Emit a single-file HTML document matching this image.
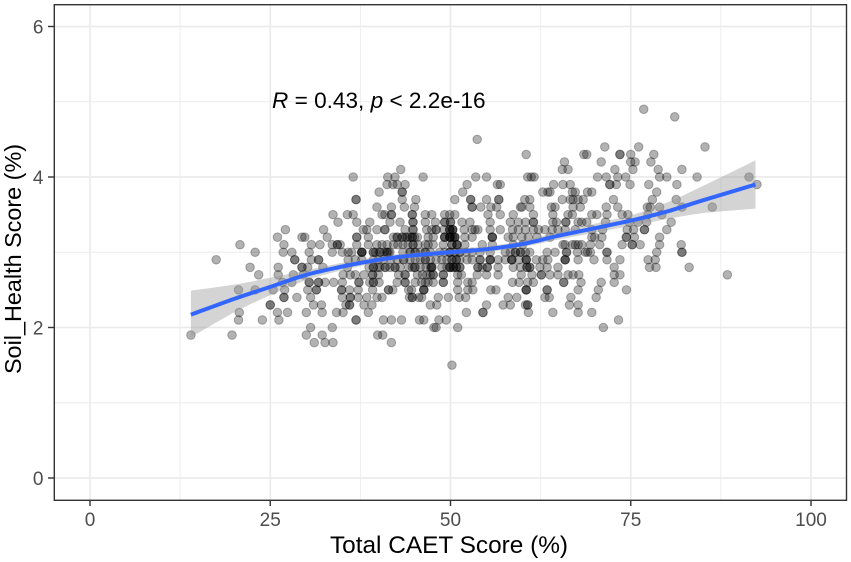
<!DOCTYPE html>
<html>
<head>
<meta charset="utf-8">
<title>Soil health vs CAET score</title>
<style>
html,body{margin:0;padding:0;background:#fff;width:851px;height:562px;overflow:hidden}
svg{display:block;font-family:"Liberation Sans",Arial,sans-serif}
</style>
</head>
<body>
<svg id="chart" width="851" height="562" viewBox="0 0 851 562" xmlns="http://www.w3.org/2000/svg">
<rect x="0" y="0" width="851" height="562" fill="#fff"/>
<g id="grid"></g>
<g id="points"></g>
<path id="band" fill="#999" fill-opacity="0.42" stroke="none"/>
<path id="trend" fill="none" stroke="#3366ff" stroke-width="4" stroke-linejoin="round"/>
<rect x="54.3" y="4.7" width="792.2" height="495.6" fill="none" stroke="#333" stroke-width="1.4"/>
<g id="axes"></g>
<text x="272" y="108" font-size="22.6" fill="#000"><tspan font-style="italic">R</tspan><tspan> = 0.43, </tspan><tspan font-style="italic">p</tspan><tspan> &lt; 2.2e-16</tspan></text>
<text x="449" y="553" font-size="24.4" fill="#000" text-anchor="middle">Total CAET Score (%)</text>
<text transform="translate(21,259) rotate(-90)" font-size="23.4" fill="#000" text-anchor="middle">Soil_Health Score (%)</text>
</svg>
<script>
const xMajorTicks = [0, 25, 50, 75, 100];
const xMinorTicks = [12.5, 37.5, 62.5, 87.5];
const yMajorTicks = [0, 2, 4, 6];
const yMinorTicks = [1, 3, 5];

const soilLevels = [1.5, 1.8, 1.9, 2.0, 2.1, 2.2, 2.3, 2.4, 2.5, 2.6, 2.7, 2.8, 2.9, 3.0, 3.1, 3.2, 3.3, 3.4, 3.5, 3.6, 3.7, 3.8, 3.9, 4.0, 4.1, 4.2, 4.3, 4.4, 4.5, 4.8, 4.9];
const caetAtLevel = [
[50.2],
[31.1,32.6,33.7,41.8],
[14.0,19.7,30,32.2,39.9,40.6],
[30.6,33.6,47.7,48,51,71.2],
[20.6,23.9,26.2,36.9,36.9,40.7,41.8,43.2,45.7,46.3,48.4,49.4,73.3],
[20.7,26,27.4,30,32.2,34.2,35.1,38.6,52.2,54.5,54.5,60.8,64.2,67.7,69.6],
[25,25,31,32.1,35.5,36,36,38,39.1,47.2,48.1,55,57.3,58.3,60.4,60.7,60.7,66.5,67.7],
[26.9,26.9,28.7,30.6,35,36.1,36.1,37.2,38.4,39.8,40.5,44.3,44.7,44.7,45.6,46,48.3,49.7,51.2,52.1,58,59.2,63.1,63.7,66.7,70.2],
[20.6,22.9,25.4,27,30.2,31.4,31.4,34.9,34.9,36,37.2,39.2,41.4,41.4,42,44.2,44.6,46.3,46.3,46.3,51,52.4,53.1,55.6,56.3,60.5,60.5,60.5,63.4,63.4,67.7,70.5,74.4],
[26.7,28,30.4,30.4,31.7,31.7,32.6,33.8,35,37.3,37.3,38.8,39.3,39.3,40.1,42.6,43.7,43.7,45.1,46,46.5,46.9,47.6,49,49,51,52.4,53,58.6,59.5,60.7,61.5,65.7,65.7,68.1,70.9,72.7],
[23.4,26.1,28.2,29.6,35.1,36.1,36.8,38,39.2,39.2,40,42.8,43.7,43.7,45.4,46.1,46.7,47.2,47.6,47.6,49,49,51,51.5,53.7,55,56.6,59.8,61.3,62.6,62.6,63.8,64.9,66.3,67,67.8,72.7,73.5,88.4],
[22.2,26.1,29.4,29.4,30.2,32.3,35.7,38.7,39.3,39.3,39.9,40.2,40.9,41,41.6,42.3,42.3,43,44.2,44.7,45,45.1,45.8,46.6,47.2,47.4,47.4,47.4,48.8,49.5,49.9,49.9,50,50.4,50.4,50.8,50.8,51.3,51.3,53.8,53.8,54.4,55.1,55.1,56.6,58.7,59.7,60.6,60.6,61,61,62.4,63.4,64.9,72.7,77.6,78.5,83.1],
[17.5,28.4,28.4,30.7,31.7,31.7,35.8,36.8,37.7,39.3,40,40.7,41.7,42.6,43.5,43.5,44.4,45.1,45.8,46.5,46.5,47.2,48,48.8,49.5,50.2,50.2,50.8,50.8,51.3,52.3,53,54.1,54.1,55.5,55.5,55.5,56.6,57.6,58.5,58.5,58.5,59.5,60.5,60.5,60.5,61.9,62.8,63.5,65.9,65.9,65.9,67.7,69.9,71.7,73.5,77.4,78.4],
[22.9,26.8,28,30.4,33.6,35,35.8,36.3,37.7,37.7,37.7,37.7,39.3,39.3,39.6,40.2,40.2,40.8,41.2,41.2,41.4,41.6,43.4,44.4,44.4,45.1,45.1,45.8,46.5,46.5,47.2,48.5,49.2,49.9,49.9,49.9,50.6,50.6,51.3,51.3,52.2,53,54.1,55.5,57.6,58.3,59,59,59.7,59.7,60.4,61,63.4,64.5,66.1,66.1,67.6,68.7,69,69.4,71.7,71.7,78.6,82.1,82.1],
[20.8,26.9,30.7,31.9,33.6,34.3,34.3,34.7,37,38.6,39.8,40.5,41.2,42.1,42.7,43.4,44.1,44.8,44.8,45.5,46.5,46.9,47.6,49,50.2,50.2,50.9,50.9,50.9,52,54.4,55.8,58.7,60,65.6,65.9,66.9,67.3,67.7,68.2,69.4,70.7,73.8,75.2,75.2,76.3,79,82],
[26,29.4,29.8,32.9,37,37,38.6,42.1,42.6,42.6,43.3,43.3,43.8,44,44.4,44.7,44.7,45,45.4,46.9,47.6,49.2,49.2,49.2,49.9,49.9,49.9,50,50.3,50.6,50.6,50.6,52,53,55.8,55.8,55.8,58,58.7,59.9,60.8,62,63.8,69.6,70,71,74.4,74.4,75.5,79],
[27.1,32.4,37.9,38.4,39.8,40.9,40.9,43.7,44.8,44.8,46.7,47.4,48,48,49.1,49.9,49.9,49.9,50.3,50.3,50.3,51.9,53,53.4,53.8,55.5,56.9,58.6,59.4,60.4,61.5,62.2,63.1,64.1,64.9,65.9,67.3,69.6,71.1,74.5,75.4,76.9,76.9,80],
[34.4,37,38.8,41.6,43,44.8,44.8,46.5,47.9,49.2,49.2,50,50,51.6,52.7,55.5,58.3,59.4,60.4,61.5,61.5,64.2,64.7,66,66,67.7,68.2,68.9,71.5,74.8,76,77.2,80.6],
[33.7,35.7,36.5,40.5,40.9,41.8,41.8,44.7,44.7,46.5,47.4,49.2,49.9,50.6,55.2,56.9,58.7,61.5,64.2,66.3,66.9,69.6,70.3,71.7,73.8,74.6,77.4,79.3],
[39.8,41.8,43.6,45,53,53,54.2,55.6,56.4,59.7,59.9,61,64,64.5,67,68,71.6,73.2,77.3,77.7,79,82.1,86.3],
[36.9,36.9,43.3,45.2,50.6,52.8,52.8,55,56.7,56.7,60.3,61,65.5,66.6,67,67.7,68.4,72.6,78,81.3],
[40.1,43.3,43.3,51.7,62.8,63.5,63.8,66.9,67.3,69,69.6,78.6],
[41.2,42,42.6,43.7,52.3,56.5,56.9,64.3,65.6,66.6,72.1,72.1,73,74.9,77.5,81.4,92.5],
[36.5,41.3,42.3,46.2,53.5,55,60.7,61.2,61.6,70.4,71.6,73.2,74.3,79,80,84.2,91.4],
[43.1,65.5,66.3,72.8,75.3,78.8,82.1],
[65.8,70.9,75,75.6,77.8],
[60.5,68.5,68.9,73.5,73.5,75,78.2],
[71.4,76.1,85.3],
[53.7],
[81.1],
[76.8]
];

const smoothX = [14, 20, 25, 30, 35, 40, 45, 50, 55, 60, 65, 70, 75, 80, 85, 92.3];
const smoothFit = [2.17, 2.38, 2.54, 2.70, 2.81, 2.90, 2.96, 3.00, 3.04, 3.11, 3.22, 3.32, 3.42, 3.54, 3.69, 3.90];
const smoothUpper = [2.49, 2.57, 2.66, 2.76, 2.86, 2.94, 3.00, 3.04, 3.08, 3.15, 3.27, 3.38, 3.49, 3.66, 3.88, 4.22];
const smoothLower = [1.87, 2.20, 2.43, 2.63, 2.76, 2.86, 2.92, 2.96, 3.00, 3.07, 3.17, 3.26, 3.35, 3.44, 3.52, 3.58];

const SVG_NS = 'http://www.w3.org/2000/svg';
const xScale = v => 90 + v * 7.21;
const yScale = v => 478 - v * 75.25;

function make(tag, parent, attrs) {
  const el = document.createElementNS(SVG_NS, tag);
  for (const k in attrs) el.setAttribute(k, attrs[k]);
  parent.appendChild(el);
  return el;
}

const grid = document.getElementById('grid');
xMinorTicks.forEach(t => {
  const el = make('line', grid, {x1: xScale(t), x2: xScale(t), y1: 5, y2: 500, stroke: '#ececec', 'stroke-width': 0.9});
  
  
});
yMinorTicks.forEach(t => {
  const el = make('line', grid, {x1: 54, x2: 846, y1: yScale(t), y2: yScale(t), stroke: '#ececec', 'stroke-width': 0.9});
  
  
});
xMajorTicks.forEach(t => {
  const el = make('line', grid, {x1: xScale(t), x2: xScale(t), y1: 5, y2: 500, stroke: '#ebebeb', 'stroke-width': 1.7});
  
  
});
yMajorTicks.forEach(t => {
  const el = make('line', grid, {x1: 54, x2: 846, y1: yScale(t), y2: yScale(t), stroke: '#ebebeb', 'stroke-width': 1.7});
  
  
});

const pointsGroup = document.getElementById('points');
soilLevels.forEach((level, i) => {
  caetAtLevel[i].forEach(score => {
    const c = make('circle', pointsGroup, {cx: xScale(score), cy: yScale(level), r: 4.3, fill: 'rgba(0,0,0,0.3)', stroke: 'rgba(0,0,0,0.28)', 'stroke-width': 1});
    
    
  });
});

// Smooth curve through scaled values (Catmull-Rom to cubic Bezier)
function curve(xs, ys, start) {
  const p = xs.map((x, i) => [xScale(x), yScale(ys[i])]);
  let d = start + p[0][0].toFixed(1) + ' ' + p[0][1].toFixed(1);
  for (let i = 0; i < p.length - 1; i++) {
    const a = p[Math.max(i - 1, 0)], b = p[i], c = p[i + 1], e = p[Math.min(i + 2, p.length - 1)];
    d += ' C' + (b[0] + (c[0] - a[0]) / 6).toFixed(1) + ' ' + (b[1] + (c[1] - a[1]) / 6).toFixed(1) + ' ' +
         (c[0] - (e[0] - b[0]) / 6).toFixed(1) + ' ' + (c[1] - (e[1] - b[1]) / 6).toFixed(1) + ' ' +
         c[0].toFixed(1) + ' ' + c[1].toFixed(1);
  }
  return d;
}
const lowerReversedX = smoothX.slice().reverse();
const lowerReversedY = smoothLower.slice().reverse();
document.getElementById('band').setAttribute('d', curve(smoothX, smoothUpper, 'M') + ' ' + curve(lowerReversedX, lowerReversedY, 'L') + ' Z');
document.getElementById('trend').setAttribute('d', curve(smoothX, smoothFit, 'M'));

const axes = document.getElementById('axes');
xMajorTicks.forEach(t => {
  const tick = make('line', axes, {x1: xScale(t), x2: xScale(t), y1: 500.5, y2: 506, stroke: '#333', 'stroke-width': 1.4});
  
  
  const label = make('text', axes, {x: xScale(t), y: 526, 'font-size': 19, fill: '#4d4d4d', 'text-anchor': 'middle'});
  
  
  label.textContent = t;
});
yMajorTicks.forEach(t => {
  const tick = make('line', axes, {x1: 48, x2: 54, y1: yScale(t), y2: yScale(t), stroke: '#333', 'stroke-width': 1.4});
  
  
  const label = make('text', axes, {x: 43.5, y: yScale(t) + 6.8, 'font-size': 19, fill: '#4d4d4d', 'text-anchor': 'end'});
  
  
  label.textContent = t;
});
</script>
</body>
</html>
